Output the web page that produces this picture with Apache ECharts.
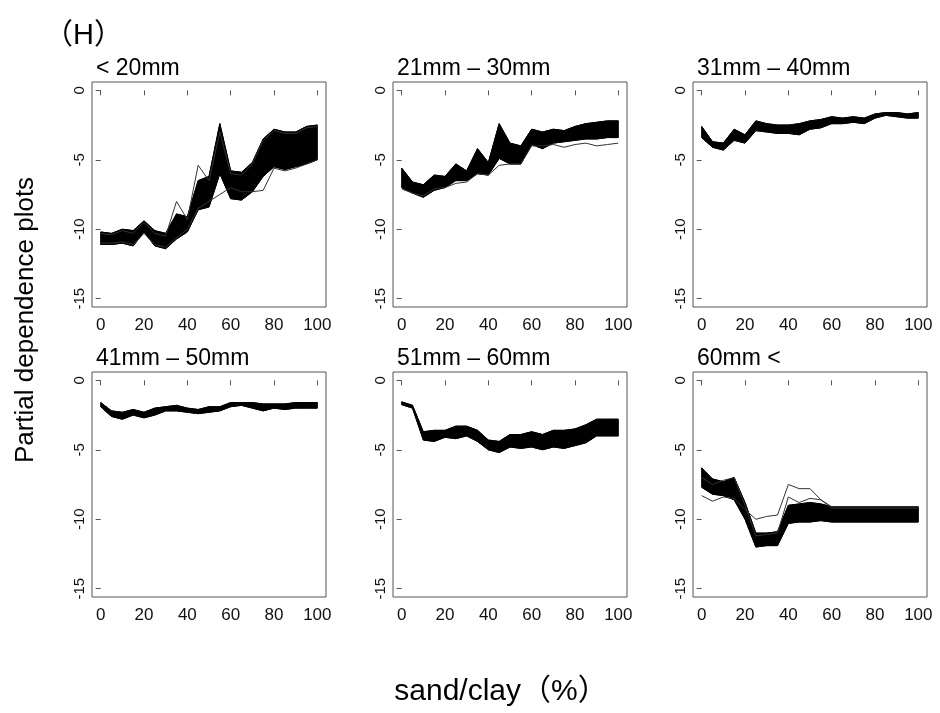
<!DOCTYPE html>
<html><head><meta charset="utf-8">
<script src="https://cdn.jsdelivr.net/npm/echarts@6/dist/echarts.min.js"></script>
<style>html,body{margin:0;padding:0;background:#fff}#c{width:940px;height:713px}</style>
</head><body><div id="c"></div>
<script>
// x values (sand/clay %)
const sand = [0,5,10,15,20,25,30,35,40,45,50,55,60,65,70,75,80,85,90,95,100];
const panelTitles = ['< 20mm','21mm – 30mm','31mm – 40mm','41mm – 50mm','51mm – 60mm','60mm <'];
const xTicks = [0,20,40,60,80,100];
const yTicks = [0,-5,-10,-15];

// Panel 1: < 20mm (band envelopes + individual outlying curves)
const p1Upper = [-10.2,-10.3,-10.0,-10.1,-9.4,-10.1,-10.3,-8.9,-9.1,-6.5,-6.2,-2.4,-5.8,-5.9,-5.2,-3.5,-2.8,-3.0,-3.0,-2.6,-2.5];
const p1Lower = [-11.1,-11.1,-11.0,-11.2,-10.2,-11.2,-11.4,-10.7,-10.2,-8.6,-8.4,-6.0,-7.8,-7.9,-7.3,-6.2,-5.5,-5.7,-5.5,-5.3,-5.0];
const p1OutA  = [-10.3,-10.4,-10.1,-10.3,-9.5,-10.3,-10.5,-8.0,-9.3,-5.4,-6.5,-3.0,-6.0,-6.1,-5.3,-3.6,-2.9,-3.1,-3.1,-2.7,-2.6];
const p1OutB  = [-11.0,-11.0,-10.9,-11.1,-10.3,-11.1,-11.3,-10.6,-10.0,-8.5,-8.0,-7.5,-7.0,-7.3,-7.3,-7.2,-5.6,-5.8,-5.6,-5.3,-5.0];

// Panel 2: 21mm – 30mm
const p2Upper = [-5.6,-6.6,-6.8,-6.1,-6.2,-5.3,-5.8,-4.2,-5.2,-2.4,-3.8,-4.0,-2.8,-3.0,-2.8,-2.9,-2.6,-2.4,-2.3,-2.2,-2.2];
const p2Lower = [-7.0,-7.4,-7.7,-7.2,-7.0,-6.5,-6.5,-6.0,-6.1,-4.9,-5.3,-5.3,-3.9,-4.2,-3.8,-3.7,-3.6,-3.5,-3.5,-3.4,-3.4];
const p2OutA  = [-7.1,-7.4,-7.6,-7.1,-7.0,-6.7,-6.6,-6.0,-6.1,-5.4,-5.3,-5.3,-4.0,-4.0,-3.9,-4.1,-3.9,-3.8,-4.0,-3.9,-3.8];

// Panel 3: 31mm – 40mm
const p3Upper = [-2.6,-3.7,-3.8,-2.8,-3.2,-2.2,-2.4,-2.5,-2.5,-2.4,-2.2,-2.1,-1.9,-2.0,-1.9,-2.0,-1.7,-1.6,-1.6,-1.7,-1.6];
const p3Lower = [-3.4,-4.1,-4.3,-3.6,-3.8,-2.9,-3.0,-3.1,-3.1,-3.2,-2.8,-2.7,-2.4,-2.4,-2.3,-2.4,-2.0,-1.8,-1.9,-2.0,-2.0];

// Panel 4: 41mm – 50mm
const p4Upper = [-1.6,-2.2,-2.3,-2.1,-2.3,-2.0,-1.9,-1.8,-2.0,-2.1,-1.9,-1.9,-1.6,-1.6,-1.6,-1.7,-1.7,-1.7,-1.6,-1.6,-1.6];
const p4Lower = [-1.9,-2.6,-2.8,-2.5,-2.7,-2.5,-2.2,-2.2,-2.3,-2.4,-2.3,-2.2,-1.9,-1.8,-2.0,-2.2,-2.0,-2.1,-2.0,-2.0,-2.0];

// Panel 5: 51mm – 60mm
const p5Upper = [-1.55,-1.8,-3.7,-3.6,-3.6,-3.3,-3.3,-3.6,-4.3,-4.4,-3.9,-3.9,-3.7,-3.9,-3.6,-3.6,-3.5,-3.2,-2.8,-2.8,-2.8];
const p5Lower = [-1.75,-2.0,-4.3,-4.4,-4.1,-4.2,-4.0,-4.4,-5.0,-5.2,-4.8,-4.9,-4.8,-5.0,-4.8,-4.9,-4.7,-4.5,-4.0,-4.0,-4.0];

// Panel 6: 60mm <
const p6Upper = [-6.3,-7.1,-7.3,-7.0,-8.8,-11.0,-11.0,-10.9,-9.0,-8.9,-8.8,-8.9,-9.1,-9.1,-9.1,-9.1,-9.1,-9.1,-9.1,-9.1,-9.1];
const p6Lower = [-7.7,-8.2,-8.3,-8.6,-10.0,-12.0,-11.9,-11.9,-10.3,-10.2,-10.2,-10.1,-10.2,-10.2,-10.2,-10.2,-10.2,-10.2,-10.2,-10.2,-10.2];
const p6OutA  = [-8.3,-8.7,-8.4,-8.5,-9.3,-10.0,-9.8,-9.7,-7.5,-7.8,-7.8,-8.6,-9.2,-9.2,-9.2,-9.2,-9.2,-9.2,-9.2,-9.2,-9.2];
const p6OutB  = [-7.0,-7.5,-7.2,-7.0,-9.0,-11.2,-11.1,-11.0,-8.4,-8.8,-8.5,-8.6,-9.1,-9.1,-9.1,-9.1,-9.1,-9.1,-9.1,-9.1,-9.1];

const uppers = [p1Upper,p2Upper,p3Upper,p4Upper,p5Upper,p6Upper];
const lowers = [p1Lower,p2Lower,p3Lower,p4Lower,p5Lower,p6Lower];
const outliers = [[p1OutA,p1OutB],[p2OutA],[],[],[],[p6OutA,p6OutB]];

const FONT = "'Liberation Sans', Arial, 'Noto Sans CJK SC', sans-serif";
const gridLefts = [92, 393, 693];
const gridTops = [82, 372];
const GW = 234, GH = 225;

// one closed polygon per panel: along the upper envelope, back along the lower one
function bandRenderer(lo, up) {
  return function (params, api) {
    if (params.dataIndex !== 0) return null;
    const pts = [];
    for (let k = 0; k < sand.length; k++) pts.push(api.coord([sand[k], up[k]]));
    for (let k = sand.length - 1; k >= 0; k--) pts.push(api.coord([sand[k], lo[k]]));
    return {type: 'polygon', shape: {points: pts},
      style: {fill: '#000', stroke: '#000', lineWidth: 1}};
  };
}

const grids = [], xAxes = [], yAxes = [], series = [], titles = [];
for (let i = 0; i < 6; i++) {
  const col = i % 3, row = Math.floor(i / 3);
  grids.push({left: gridLefts[col], top: gridTops[row], width: GW, height: GH,
    show: true, borderColor: '#555', borderWidth: 1, backgroundColor: 'transparent'});
  xAxes.push({type: 'value', gridIndex: i, min: -4, max: 104,
    axisLine: {show: false}, splitLine: {show: false},
    axisTick: {show: true, inside: false, length: 5, customValues: xTicks, lineStyle: {color: '#555'}},
    axisLabel: {show: true, customValues: xTicks, margin: 10, fontSize: 17, color: '#111', fontFamily: FONT}});
  yAxes.push({type: 'value', gridIndex: i, min: -15.6, max: 0.6,
    axisLine: {show: false}, splitLine: {show: false},
    axisTick: {show: true, inside: false, length: 5, customValues: yTicks, lineStyle: {color: '#555'}},
    axisLabel: {show: true, customValues: yTicks, rotate: 90, margin: 5, fontSize: 15, color: '#111', fontFamily: FONT}});
  titles.push({text: panelTitles[i], left: gridLefts[col] + 4, top: gridTops[row] - 25, padding: 0,
    textStyle: {fontSize: 23, fontWeight: 'normal', color: '#000', fontFamily: FONT}});
  const lo = lowers[i], up = uppers[i];
  series.push({type: 'custom', xAxisIndex: i, yAxisIndex: i, silent: true,
    renderItem: bandRenderer(lo, up),
    encode: {x: 0, y: [1, 2]},
    data: sand.map((x, k) => [x, lo[k], up[k]])});
  series.push({type: 'line', xAxisIndex: i, yAxisIndex: i, symbol: 'none', silent: true,
    lineStyle: {color: '#000', width: 1}, data: sand.map((x, k) => [x, lo[k]])});
  series.push({type: 'line', xAxisIndex: i, yAxisIndex: i, symbol: 'none', silent: true,
    lineStyle: {color: '#000', width: 1}, data: sand.map((x, k) => [x, up[k]])});
  outliers[i].forEach(o => {
    series.push({type: 'line', xAxisIndex: i, yAxisIndex: i, symbol: 'none', silent: true,
      lineStyle: {color: '#333', width: 1}, data: sand.map((x, k) => [x, o[k]])});
  });
}

const chart = echarts.init(document.getElementById('c'), null, {renderer: 'canvas'});
chart.setOption({
  animation: false,
  backgroundColor: '#fff',
  title: titles,
  grid: grids, xAxis: xAxes, yAxis: yAxes, series: series,
  graphic: [
    {type: 'text', left: 44, top: 21, style: {text: '（H）', fontSize: 29, fontFamily: "'Liberation Sans', 'Noto Sans CJK SC'", fill: '#000'}},
    {type: 'text', x: 26, y: 320, rotation: Math.PI / 2,
      style: {text: 'Partial dependence plots', fontSize: 26, fontFamily: "'Liberation Sans', Arial", fill: '#000', align: 'center', verticalAlign: 'middle'}},
    {type: 'text', x: 501, y: 692,
      style: {text: 'sand/clay（%）', fontSize: 30, fontFamily: "'Liberation Sans', 'Noto Sans CJK SC'", fill: '#000', align: 'center', verticalAlign: 'middle'}}
  ]
});
</script></body></html>
